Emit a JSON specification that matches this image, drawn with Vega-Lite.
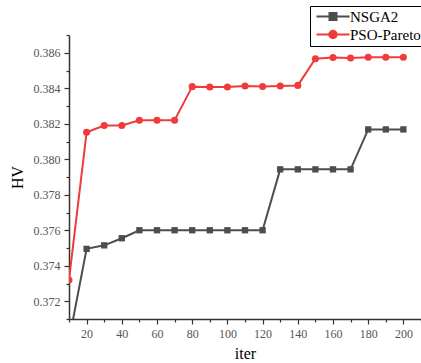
{
  "$schema": "https://vega.github.io/schema/vega-lite/v6.json",
  "width": 352,
  "height": 284,
  "autosize": {"type": "none"},
  "padding": {"left": 69, "top": 35, "right": 0, "bottom": 44},
  "background": "white",
  "config": {
    "view": {"stroke": null},
    "font": "Liberation Serif"
  },
  "data": {
    "values": [
      {"iter": 10, "HV": 0.3698, "algo": "NSGA2"},
      {"iter": 20, "HV": 0.37495, "algo": "NSGA2"},
      {"iter": 30, "HV": 0.37515, "algo": "NSGA2"},
      {"iter": 40, "HV": 0.37555, "algo": "NSGA2"},
      {"iter": 50, "HV": 0.376, "algo": "NSGA2"},
      {"iter": 60, "HV": 0.376, "algo": "NSGA2"},
      {"iter": 70, "HV": 0.376, "algo": "NSGA2"},
      {"iter": 80, "HV": 0.376, "algo": "NSGA2"},
      {"iter": 90, "HV": 0.376, "algo": "NSGA2"},
      {"iter": 100, "HV": 0.376, "algo": "NSGA2"},
      {"iter": 110, "HV": 0.376, "algo": "NSGA2"},
      {"iter": 120, "HV": 0.376, "algo": "NSGA2"},
      {"iter": 130, "HV": 0.37943, "algo": "NSGA2"},
      {"iter": 140, "HV": 0.37943, "algo": "NSGA2"},
      {"iter": 150, "HV": 0.37943, "algo": "NSGA2"},
      {"iter": 160, "HV": 0.37943, "algo": "NSGA2"},
      {"iter": 170, "HV": 0.37943, "algo": "NSGA2"},
      {"iter": 180, "HV": 0.38168, "algo": "NSGA2"},
      {"iter": 190, "HV": 0.38168, "algo": "NSGA2"},
      {"iter": 200, "HV": 0.38168, "algo": "NSGA2"},
      {"iter": 10, "HV": 0.3732, "algo": "PSO-Pareto"},
      {"iter": 20, "HV": 0.38152, "algo": "PSO-Pareto"},
      {"iter": 30, "HV": 0.3819, "algo": "PSO-Pareto"},
      {"iter": 40, "HV": 0.3819, "algo": "PSO-Pareto"},
      {"iter": 50, "HV": 0.3822, "algo": "PSO-Pareto"},
      {"iter": 60, "HV": 0.3822, "algo": "PSO-Pareto"},
      {"iter": 70, "HV": 0.3822, "algo": "PSO-Pareto"},
      {"iter": 80, "HV": 0.38409, "algo": "PSO-Pareto"},
      {"iter": 90, "HV": 0.38407, "algo": "PSO-Pareto"},
      {"iter": 100, "HV": 0.38407, "algo": "PSO-Pareto"},
      {"iter": 110, "HV": 0.38413, "algo": "PSO-Pareto"},
      {"iter": 120, "HV": 0.3841, "algo": "PSO-Pareto"},
      {"iter": 130, "HV": 0.38413, "algo": "PSO-Pareto"},
      {"iter": 140, "HV": 0.38416, "algo": "PSO-Pareto"},
      {"iter": 150, "HV": 0.38566, "algo": "PSO-Pareto"},
      {"iter": 160, "HV": 0.38573, "algo": "PSO-Pareto"},
      {"iter": 170, "HV": 0.3857, "algo": "PSO-Pareto"},
      {"iter": 180, "HV": 0.38575, "algo": "PSO-Pareto"},
      {"iter": 190, "HV": 0.38575, "algo": "PSO-Pareto"},
      {"iter": 200, "HV": 0.38575, "algo": "PSO-Pareto"}
    ]
  },
  "encoding": {
    "x": {
      "field": "iter",
      "type": "quantitative",
      "scale": {"domain": [10, 210], "nice": false, "zero": false},
      "axis": {
        "title": "iter",
        "titleFont": "Liberation Serif",
        "titleFontSize": 16,
        "titleFontWeight": "normal",
        "titleColor": "#000",
        "titlePadding": 6,
        "values": [10, 20, 30, 40, 50, 60, 70, 80, 90, 100, 110, 120, 130, 140, 150, 160, 170, 180, 190, 200, 210],
        "labelExpr": "datum.value % 20 == 0 && datum.value <= 200 ? datum.label : ''",
        "labelFont": "Liberation Serif",
        "labelFontSize": 12,
        "labelColor": "#555",
        "labelPadding": 4,
        "labelFlush": false,
        "tickSize": {"condition": {"test": "datum.value % 20 == 0", "value": 5}, "value": 3},
        "tickColor": "#333",
        "tickWidth": 1.2,
        "domainColor": "#333",
        "domainWidth": 1.5,
        "grid": false
      }
    },
    "y": {
      "field": "HV",
      "type": "quantitative",
      "scale": {"domain": [0.371, 0.387], "nice": false, "zero": false},
      "axis": {
        "title": "HV",
        "titleFont": "Liberation Serif",
        "titleFontSize": 16,
        "titleFontWeight": "normal",
        "titleColor": "#000",
        "titlePadding": 8,
        "values": [0.371, 0.372, 0.373, 0.374, 0.375, 0.376, 0.377, 0.378, 0.379, 0.38, 0.381, 0.382, 0.383, 0.384, 0.385, 0.386, 0.387],
        "labelExpr": "round(datum.value * 1000) % 2 == 0 ? format(datum.value, '.3f') : ''",
        "labelFont": "Liberation Serif",
        "labelFontSize": 12,
        "labelColor": "#555",
        "labelPadding": 4,
        "labelFlush": false,
        "tickSize": {"condition": {"test": "round(datum.value * 1000) % 2 == 0", "value": 5}, "value": 3},
        "tickColor": "#333",
        "tickWidth": 1.2,
        "domainColor": "#333",
        "domainWidth": 1.5,
        "grid": false
      }
    }
  },
  "layer": [
    {
      "mark": {"type": "line", "strokeWidth": 2, "clip": true},
      "encoding": {
        "color": {
          "field": "algo",
          "type": "nominal",
          "scale": {"domain": ["NSGA2", "PSO-Pareto"], "range": ["#4d4d4d", "#ef3b3b"]},
          "legend": {
            "title": null,
            "orient": "none",
            "legendX": 241,
            "legendY": -29,
            "strokeColor": "#000",
            "fillColor": "white",
            "padding": 3,
            "labelFont": "Liberation Serif",
            "labelFontSize": 15,
            "labelColor": "#000",
            "labelOffset": 22,
            "symbolSize": 100,
            "symbolStrokeWidth": 2,
            "rowPadding": 1,
            "encode": {
              "symbols": {
                "update": {
                  "shape": {"signal": "datum.value === 'NSGA2' ? 'M-0.8,0H5.8M1.8,-0.7H3.2V0.7H1.8Z' : 'M-0.8,0H5.8M3.25,0A0.75,0.75,0,1,1,1.75,0A0.75,0.75,0,1,1,3.25,0Z'"},
                  "fill": {"scale": "color", "field": "value"},
                  "fillOpacity": {"value": 1}
                }
              }
            }
          }
        }
      }
    },
    {
      "transform": [{"filter": "datum.algo === 'NSGA2'"}],
      "mark": {"type": "point", "filled": true, "opacity": 1, "clip": true, "shape": "square", "size": 40, "color": "#4d4d4d"}
    },
    {
      "transform": [{"filter": "datum.algo === 'PSO-Pareto'"}],
      "mark": {"type": "point", "filled": true, "opacity": 1, "clip": true, "shape": "circle", "size": 50, "color": "#ef3b3b"}
    }
  ]
}
